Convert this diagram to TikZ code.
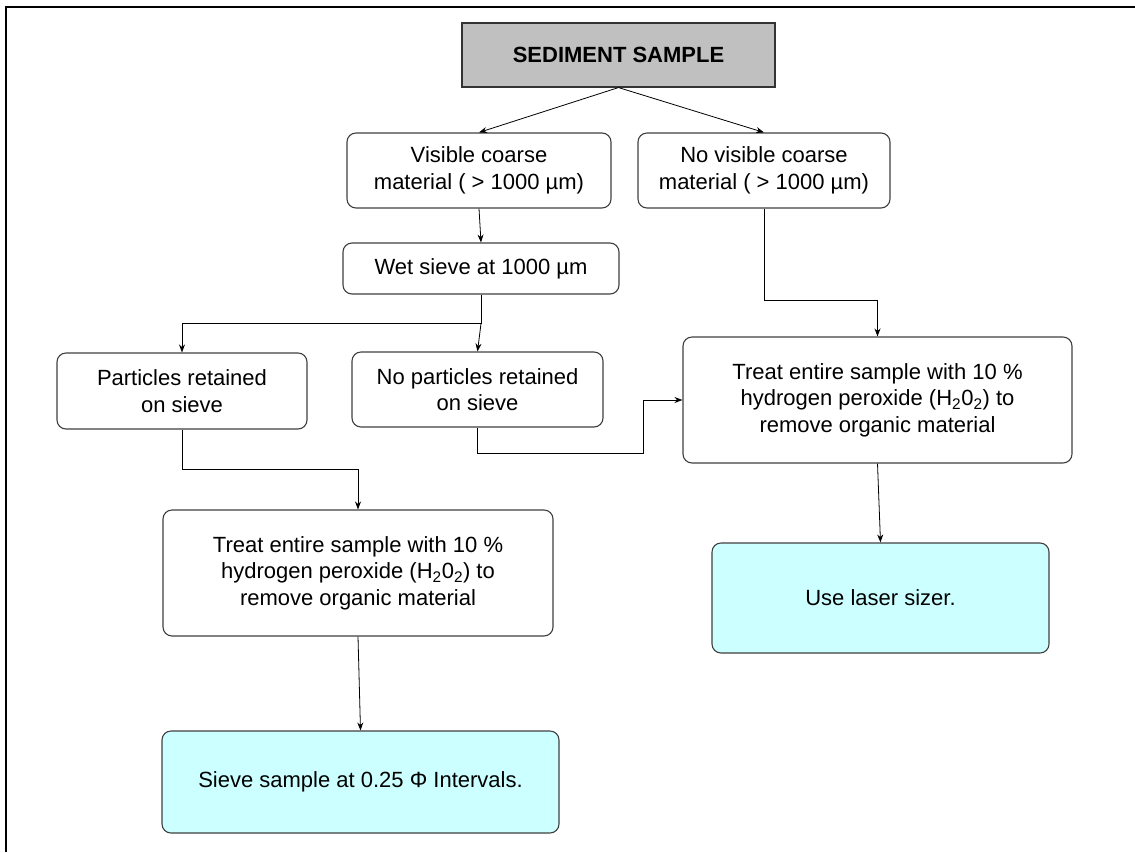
\documentclass[tikz,border=0pt]{standalone}
\usepackage{fontspec}
\setmainfont{Liberation Sans}
\usetikzlibrary{arrows.meta}
\definecolor{samplegray}{HTML}{C0C0C0}
\definecolor{resultcyan}{HTML}{CCFFFF}

\begin{document}
\begin{tikzpicture}[x=1pt, y=-1pt, >={Stealth[length=8pt,width=6pt]},
  font=\fontsize{22}{26.5}\selectfont,
  stepbox/.style={draw=black!75, line width=1.1pt, rounded corners=9pt,
    align=center, inner sep=0pt, fill=white},
  result/.style={stepbox, fill=resultcyan},
  flow/.style={->, line width=0.8pt}]
  \useasboundingbox (0,0) rectangle (1135,852);
  % page frame
  \draw[line width=2pt] (6,852) -- (6,7) -- (1135,7);

  \node[draw=black!80, fill=samplegray, line width=1.1pt, minimum width=313pt,
    minimum height=64pt, font=\fontsize{22}{26}\selectfont\bfseries]
    (sample) at (618.5,55) {SEDIMENT SAMPLE};
  \node[stepbox, minimum width=264pt, minimum height=75pt] (coarse) at (479,170.5)
    {Visible coarse\\ material ( > 1000 µm)};
  \node[stepbox, minimum width=252pt, minimum height=75pt] (nocoarse) at (764,170.5)
    {No visible coarse\\ material ( > 1000 µm)};
  \node[stepbox, minimum width=276pt, minimum height=51pt] (wetsieve) at (481,268.5)
    {Wet sieve at 1000 µm};
  \node[stepbox, minimum width=250pt, minimum height=76pt] (kept) at (182,391)
    {Particles retained\\ on sieve};
  \node[stepbox, minimum width=251pt, minimum height=75pt] (nokept) at (477.5,389.5)
    {No particles retained\\ on sieve};
  \node[stepbox, minimum width=389pt, minimum height=126pt] (peroxR) at (877.5,400)
    {Treat entire sample with 10 \%\\ hydrogen peroxide (H\textsubscript{2}0\textsubscript{2}) to\\ remove organic material};
  \node[stepbox, minimum width=390pt, minimum height=126pt] (peroxL) at (358,573)
    {Treat entire sample with 10 \%\\ hydrogen peroxide (H\textsubscript{2}0\textsubscript{2}) to\\ remove organic material};
  \node[result, minimum width=337pt, minimum height=110pt] (laser) at (880.5,598)
    {Use laser sizer.};
  \node[result, minimum width=397pt, minimum height=102pt] (sieving) at (360.5,782)
    {Sieve sample at 0.25 Φ Intervals.};

  \draw[flow] (sample.south) -- (coarse.north);
  \draw[flow] (sample.south) -- (nocoarse.north);
  \draw[flow] (coarse.south) -- (wetsieve.north);
  \draw[flow] (wetsieve.south) -- ++(0,29) coordinate (split) -| (kept.north);
  \draw[flow] (split) -- (nokept.north);
  \draw[flow] (nokept.south) -- ++(0,26) -- ++(165.5,0) |- (peroxR.west);
  \draw[flow] (nocoarse.south) -- ++(0,92) -| (peroxR.north);
  \draw[flow] (peroxR.south) -- (laser.north);
  \draw[flow] (kept.south) -- ++(0,40) -| (peroxL.north);
  \draw[flow] (peroxL.south) -- (sieving.north);
\end{tikzpicture}
\end{document}
